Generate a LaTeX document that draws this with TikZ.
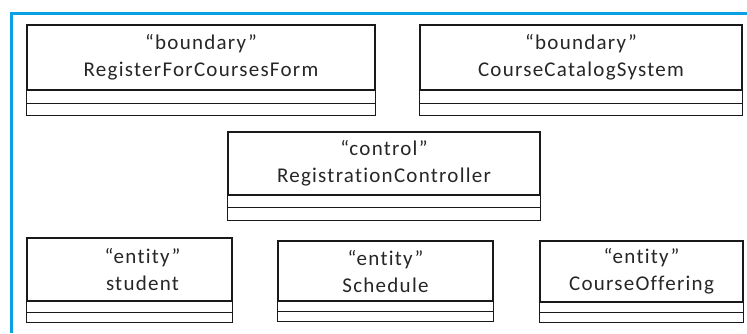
\documentclass[tikz,border=0pt]{standalone}
\usepackage{fontspec}
\setmainfont{Carlito}[LetterSpace=6,Ligatures={NoCommon}]
\usepackage{tikz}

\definecolor{framebl}{RGB}{10,160,228}

\tikzset{
  classname/.style={draw=black!90, line width=1.1pt, align=center, inner sep=0pt,
    text=black!85, font=\fontsize{21}{27}\selectfont},
  compart/.style={draw=black!90, line width=1.1pt}
}

\begin{document}
\begin{tikzpicture}[x=1pt,y=-1pt]
                \useasboundingbox (0,0) rectangle (747,333);
                % blue frame
                \draw[framebl,line width=3pt] (10,13) -- (747,13);
                \draw[framebl,line width=3pt] (11,12) -- (11,333);
                % boundary classes
                \node[classname, minimum width=348pt, minimum height=65pt] (form) at (201,57.5) {“boundary”\\RegisterForCoursesForm};
                \draw[compart] (form.south west) rectangle ([yshift=-25pt]form.south east);
                \draw[compart] ([yshift=-13pt]form.south west) -- ([yshift=-13pt]form.south east);
                \node[classname, minimum width=322pt, minimum height=65pt] (catalog) at (581,57.5) {“boundary”\\CourseCatalogSystem};
                \draw[compart] (catalog.south west) rectangle ([yshift=-25pt]catalog.south east);
                \draw[compart] ([yshift=-13pt]catalog.south west) -- ([yshift=-13pt]catalog.south east);
                % control class
                \node[classname, minimum width=312pt, minimum height=63pt] (ctrl) at (384,163.5) {“control”\\RegistrationController};
                \draw[compart] (ctrl.south west) rectangle ([yshift=-25pt]ctrl.south east);
                \draw[compart] ([yshift=-12pt]ctrl.south west) -- ([yshift=-12pt]ctrl.south east);
                % entity classes
                \node[classname, minimum width=205pt, minimum height=63pt] (student) at (129.5,269.5) {\hspace*{26pt}“entity”\\\hspace*{26pt}student};
                \draw[compart] (student.south west) rectangle ([yshift=-21pt]student.south east);
                \draw[compart] ([yshift=-11pt]student.south west) -- ([yshift=-11pt]student.south east);
                \node[classname, minimum width=215pt, minimum height=60pt] (schedule) at (385.5,271) {“entity”\\Schedule};
                \draw[compart] (schedule.south west) rectangle ([yshift=-20pt]schedule.south east);
                \draw[compart] ([yshift=-10pt]schedule.south west) -- ([yshift=-10pt]schedule.south east);
                \node[classname, minimum width=203pt, minimum height=61pt] (offering) at (641.5,271.5) {“entity”\\CourseOffering};
                \draw[compart] (offering.south west) rectangle ([yshift=-20pt]offering.south east);
                \draw[compart] ([yshift=-10pt]offering.south west) -- ([yshift=-10pt]offering.south east);
\end{tikzpicture}
\end{document}
